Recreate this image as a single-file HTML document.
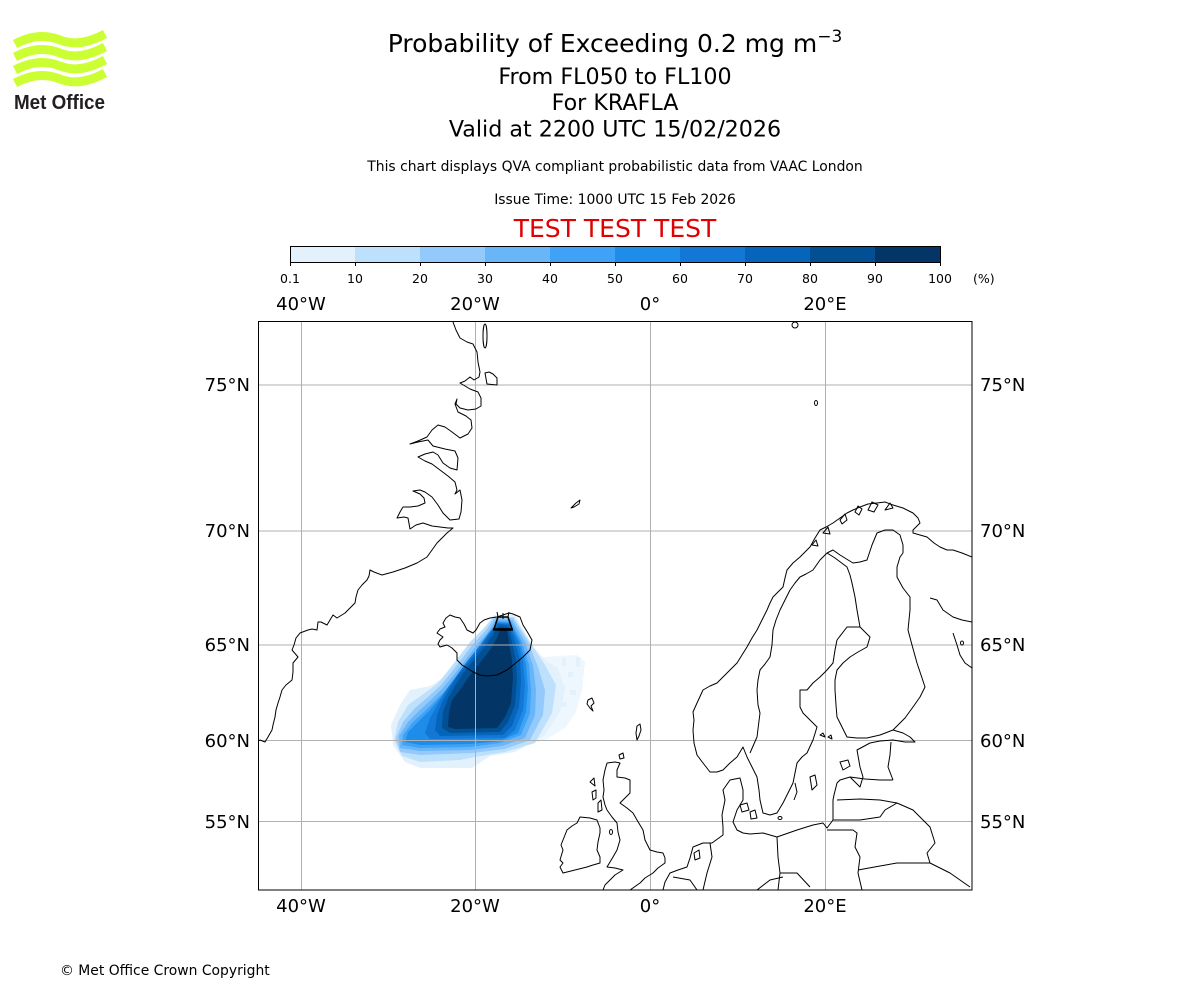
<!DOCTYPE html>
<html><head><meta charset="utf-8"><style>
html,body{margin:0;padding:0;background:#fff;}
svg{display:block;}
text{font-family:"DejaVu Sans","Liberation Sans",sans-serif;fill:#000;}
</style></head><body>
<svg width="1200" height="1000" viewBox="0 0 1200 1000" xmlns="http://www.w3.org/2000/svg">
<defs><clipPath id="ax"><rect x="258" y="321" width="714" height="569"/></clipPath></defs>
<rect width="1200" height="1000" fill="#fff"/>

<!-- Logo -->
<g fill="none" stroke="#ccff33" stroke-width="9">
<path d="M15,44 C30,36 45,34 60,40 C75,46 90,42 105,34"/>
<path d="M15,57 C30,49 45,47 60,53 C75,59 90,55 105,47"/>
<path d="M15,70 C30,62 45,60 60,66 C75,72 90,68 105,60"/>
<path d="M15,83 C30,75 45,73 60,79 C75,85 90,81 105,73"/>
</g>
<text x="14" y="109" style="font-family:'Liberation Sans',sans-serif;font-weight:bold;font-size:20px;fill:#231f20" textLength="91" lengthAdjust="spacingAndGlyphs">Met Office</text>

<!-- Titles -->
<text x="615" y="52" text-anchor="middle" font-size="25">Probability of Exceeding 0.2 mg m<tspan font-size="17" dy="-10">−3</tspan></text>
<text x="615" y="84" text-anchor="middle" font-size="22.2">From FL050 to FL100</text>
<text x="615" y="110" text-anchor="middle" font-size="22.2">For KRAFLA</text>
<text x="615" y="136.5" text-anchor="middle" font-size="22.2">Valid at 2200 UTC 15/02/2026</text>
<text x="615" y="171" text-anchor="middle" font-size="13.9">This chart displays QVA compliant probabilistic data from VAAC London</text>
<text x="615" y="204" text-anchor="middle" font-size="13.9">Issue Time: 1000 UTC 15 Feb 2026</text>
<text x="615" y="237" text-anchor="middle" font-size="25" style="fill:#e00000">TEST TEST TEST</text>

<!-- Colorbar -->
<g>
<rect x="290" y="246" width="65" height="16" fill="#e3f1fd"/>
<rect x="355" y="246" width="65" height="16" fill="#bde0fc"/>
<rect x="420" y="246" width="65" height="16" fill="#93c9fb"/>
<rect x="485" y="246" width="65" height="16" fill="#68b5f8"/>
<rect x="550" y="246" width="65" height="16" fill="#3fa2f6"/>
<rect x="615" y="246" width="65" height="16" fill="#1e8ce9"/>
<rect x="680" y="246" width="65" height="16" fill="#1377d6"/>
<rect x="745" y="246" width="65" height="16" fill="#0565bb"/>
<rect x="810" y="246" width="65" height="16" fill="#034f93"/>
<rect x="875" y="246" width="65" height="16" fill="#033666"/>
<rect x="290.5" y="246.5" width="650" height="16" fill="none" stroke="#000" stroke-width="1"/>
<g stroke="#000" stroke-width="1">
<line x1="290.5" y1="262" x2="290.5" y2="266"/><line x1="355.5" y1="262" x2="355.5" y2="266"/><line x1="420.5" y1="262" x2="420.5" y2="266"/><line x1="485.5" y1="262" x2="485.5" y2="266"/><line x1="550.5" y1="262" x2="550.5" y2="266"/><line x1="615.5" y1="262" x2="615.5" y2="266"/><line x1="680.5" y1="262" x2="680.5" y2="266"/><line x1="745.5" y1="262" x2="745.5" y2="266"/><line x1="810.5" y1="262" x2="810.5" y2="266"/><line x1="875.5" y1="262" x2="875.5" y2="266"/><line x1="940.5" y1="262" x2="940.5" y2="266"/>
</g>
<g font-size="12.5" text-anchor="middle">
<text x="290" y="283">0.1</text><text x="355" y="283">10</text><text x="420" y="283">20</text><text x="485" y="283">30</text><text x="550" y="283">40</text><text x="615" y="283">50</text><text x="680" y="283">60</text><text x="745" y="283">70</text><text x="810" y="283">80</text><text x="875" y="283">90</text><text x="940" y="283">100</text>
</g>
<text x="973" y="283" font-size="12.5">(%)</text>
</g>

<!-- Lon / Lat labels -->
<g font-size="18" text-anchor="middle">
<text x="301" y="310">40°W</text><text x="475" y="310">20°W</text><text x="650" y="310">0°</text><text x="825" y="310">20°E</text>
<text x="301" y="912">40°W</text><text x="475" y="912">20°W</text><text x="650" y="912">0°</text><text x="825" y="912">20°E</text>
</g>
<g font-size="18" text-anchor="end">
<text x="250" y="391">75°N</text><text x="250" y="537">70°N</text><text x="250" y="651">65°N</text><text x="250" y="747">60°N</text><text x="250" y="828">55°N</text>
</g>
<g font-size="18">
<text x="980" y="391">75°N</text><text x="980" y="537">70°N</text><text x="980" y="651">65°N</text><text x="980" y="747">60°N</text><text x="980" y="828">55°N</text>
</g>

<g clip-path="url(#ax)">
<!-- Plume -->
<polygon fill="#eef6fe" points="525,655 545,657 560,656 577,655 585,662 582,690 576,712 565,728 545,740 525,745"/>
<g fill="#e3f1fd">
<rect x="562" y="658" width="4" height="8"/><rect x="576" y="657" width="4" height="10"/><rect x="568" y="672" width="5" height="5"/><rect x="553" y="676" width="4" height="6"/><rect x="570" y="690" width="6" height="5"/><rect x="560" y="702" width="7" height="5"/><rect x="548" y="713" width="5" height="7"/><rect x="557" y="685" width="8" height="6"/>
</g>
<polygon fill="#e3f1fd" points="494,615 515,615 532,645 545,660 558,668 565,690 560,712 545,735 515,752 490,756 472,768 420,768 405,762 393,745 391,725 400,705 410,690 430,686 440,680 452,668 465,652 478,636"/>
<polygon fill="#bde0fc" points="494,616 514,617 530,642 545,665 556,685 552,713 535,743 505,752 475,757 460,760 420,762 402,756 394,740 398,722 408,705 422,695 437,684 447,672 458,658 470,642 484,628"/>
<polygon fill="#93c9fb" points="495,617 513,618 528,642 538,667 545,690 543,715 530,740 505,749 472,753 420,755 400,752 396,738 403,722 415,708 428,697 440,686 450,674 461,660 473,644 486,630"/>
<polygon fill="#68b5f8" points="496,619 512,620 525,642 533,666 536,690 535,715 525,738 502,746 470,750 420,751 400,748 399,736 408,722 420,710 432,699 443,688 453,676 464,662 476,646 488,632"/>
<polygon fill="#3fa2f6" points="497,621 511,622 522,642 529,665 531,690 530,713 521,735 500,743 470,747 420,748 402,745 403,735 412,723 424,712 435,701 446,690 456,678 467,664 479,648 490,634"/>
<polygon fill="#1e8ce9" points="497,622 510,623 520,642 526,664 528,688 526,712 518,733 500,741 470,744 420,745 405,742 408,732 418,722 430,710 440,698 450,686 460,674 472,659 484,644 492,632"/>
<polygon fill="#1377d6" points="497,623 510,624 518,642 523,662 525,685 523,710 515,730 505,738 430,739 425,733 430,718 438,704 446,690 455,678 465,664 477,649 488,634"/>
<polygon fill="#0565bb" points="498,624 509,625 515,642 520,660 521,682 519,707 512,726 503,735 440,736 435,730 437,715 443,700 450,688 458,675 469,662 481,647 491,633"/>
<polygon fill="#034f93" points="499,626 508,627 512,642 516,660 517,680 515,705 508,722 500,732 450,733 442,728 443,712 448,698 455,686 463,673 474,660 486,645 494,633"/>
<polygon fill="#033666" points="500,630 507,630 509,643 512,660 513,677 511,703 505,717 497,728 455,729 448,727 449,712 452,700 460,690 468,678 478,665 490,650 497,638"/>

<!-- Gridlines -->
<g stroke="#b0b0b0" stroke-width="1">
<line x1="301.5" y1="321" x2="301.5" y2="890"/><line x1="475.5" y1="321" x2="475.5" y2="890"/><line x1="650.5" y1="321" x2="650.5" y2="890"/><line x1="825.5" y1="321" x2="825.5" y2="890"/>
<line x1="258" y1="385" x2="972" y2="385"/><line x1="258" y1="531" x2="972" y2="531"/><line x1="258" y1="645" x2="972" y2="645"/><line x1="258" y1="740.5" x2="972" y2="740.5"/><line x1="258" y1="821.5" x2="972" y2="821.5"/>
</g>

<!-- Coastlines -->
<g fill="none" stroke="#000" stroke-width="1" stroke-linejoin="round">
<!-- Greenland -->
<path d="M453,322 L456,330 L460,338 L467,342 L473,344 L477,352 L478,362 L480,372 L479,377 L474,380 L470,377 L465,381 L460,383 L470,389 L478,392 L481,398 L481,406 L476,409 L468,410 L460,408 L456,404 L457,399 L455,404 L458,412 L466,416 L471,420 L472,428 L468,434 L460,438 L452,432 L445,427 L438,425 L432,430 L427,437 L418,441 L410,444 L418,442 L428,440 L433,446 L445,449 L455,451 L458,458 L457,470 L450,468 L443,463 L438,455 L433,452 L425,454 L418,457 L425,461 L432,464 L440,470 L448,476 L455,482 L457,490 L455,494 L460,490 L462,500 L461,512 L459,519 L450,520 L443,513 L438,505 L432,497 L425,492 L420,490 L413,491 L420,494 L424,498 L425,503 L418,506 L410,507 L403,507 L400,512 L397,518 L404,517 L408,518 L410,529 L416,525 L423,523 L432,526 L440,527 L448,528 L453,528 L447,533 L443,537 L437,543 L432,550 L427,557 L417,563 L405,568 L393,572 L382,575 L374,572 L370,570 L369,576 L367,580 L362,585 L358,590 L356,597 L355,603 L350,608 L345,613 L337,618 L333,615 L327,625 L321,622 L318,622 L317,630 L312,629 L308,630 L300,633 L296,638 L294,645 L292,650 L298,657 L293,663 L293,672 L292,680 L286,685 L282,690 L280,697 L278,703 L276,710 L275,717 L273,725 L272,730 L268,737 L265,742 L260,740 L257,742"/>
<ellipse cx="485" cy="336" rx="2" ry="12"/>
<path d="M485,373 L487,384 L497,385 L497,378 L493,374 L489,372 Z"/>
<ellipse cx="795" cy="325" rx="3" ry="3"/>
<ellipse cx="816" cy="403" rx="1.5" ry="2.5"/>
<path d="M571,508 L576,503 L580,500 L579,504 L574,507 Z"/>
<!-- Iceland -->
<path d="M440,647 L447,645 L452,648 L457,653 L457,660 L462,665 L467,668 L473,672 L480,675 L487,676 L497,675 L507,670 L512,666 L517,662 L523,657 L530,650 L532,640 L528,633 L523,625 L520,617 L513,614 L509,613 L497,617 L490,618 L484,620 L480,623 L476,630 L473,633 L467,630 L464,624 L460,618 L455,617 L450,615 L446,618 L443,623 L445,627 L440,629 L437,633 L443,637 L440,640 L438,644 Z"/>
<!-- Volcano symbol -->
<path d="M498,617 L508,617 L512,629 L494,629 Z" stroke-width="1.5"/>
<line x1="493" y1="629.5" x2="513" y2="629.5" stroke-width="2.5"/>
<path d="M497,612 L498,617 M509,612 L508,617 M503,613 L503,619"/>
<!-- Faroes, Shetland, Orkney -->
<path d="M588,700 L592,698 L594,703 L591,706 L593,711 L590,708 L587,704 Z"/>
<path d="M637,726 L640,724 L641,730 L639,736 L637,740 L636,733 Z"/>
<path d="M619,755 L623,753 L624,758 L620,759 Z"/>
<!-- Norway / Sweden / Finland coast -->
<path d="M972,557 L962,553 L953,550 L947,550 L940,547 L934,543 L927,537 L920,535 L913,533 L913,530 L920,523 L918,518 L913,513 L903,508 L893,505 L885,502 L877,503 L868,504 L860,507 L853,510 L847,513 L840,518 L833,523 L826,527 L820,530 L815,538 L810,547 L805,552 L800,557 L793,563 L787,570 L785,578 L783,587 L778,592 L773,597 L770,603 L767,610 L762,620 L757,630 L752,638 L747,647 L742,655 L737,663 L732,668 L727,673 L722,678 L717,683 L710,686 L703,690 L697,703 L693,712 L694,720 L693,730 L694,743 L697,755 L703,763 L710,772 L717,772 L723,770 L730,763 L737,757 L743,747 L747,757 L752,767 L757,777 L759,790 L760,800 L763,813 L770,815 L777,813 L783,803 L788,793 L793,783 L797,763 L802,757 L807,753 L813,740 L817,727 L810,720 L803,713 L800,707 L800,690 L807,690 L813,683 L820,677 L827,670 L833,663 L835,650 L837,640 L847,627 L860,627 L870,637 L867,647 L858,652 L850,657 L843,663 L837,670 L835,680 L835,690 L836,705 L837,717 L842,727 L847,737 L857,738 L867,738 L880,735 L893,730 L903,733 L910,737 L915,742 L905,742 L893,740 L880,741 L870,743 L857,750 L860,767 L863,777 L860,787 L850,777 L840,780 L837,783 L834,795 L833,800 L833,812 L833,820 L827,828 L823,823 L813,825 L797,830 L777,837 L763,833 L750,834 L743,833 L737,830 L733,822 L737,810 L743,800 L743,790 L740,778 L730,780 L723,790 L725,800 L722,815 L723,827 L723,835 L712,843 L703,843 L693,847 L690,858 L687,867 L678,870 L670,873 L665,882 L663,890"/>
<!-- North Norway islands -->
<path d="M868,510 L872,502 L878,505 L874,512 Z M855,512 L858,506 L862,509 L859,515 Z M840,520 L845,514 L847,520 L842,524 Z M823,533 L828,527 L830,534 Z M812,545 L816,540 L818,546 Z M885,510 L890,503 L893,508 Z"/>
<!-- Borders -->
<path d="M827,553 L820,560 L813,570 L806,574 L800,577 L795,583 L790,590 L785,600 L780,610 L776,620 L773,630 L772,645 L770,657 L765,664 L760,670 L758,680 L757,690 L758,705 L760,713 L757,737 L750,753"/>
<path d="M827,553 L835,558 L847,567 L850,575 L852,583 L855,597 L857,610 L860,627"/>
<path d="M827,553 L833,550 L840,555 L853,563 L860,562 L867,560 L872,545 L877,533 L885,530 L893,530 L900,535 L903,545 L903,553"/>
<path d="M903,553 L900,557 L897,567 L897,577 L903,588 L910,597 L910,610 L908,630 L912,645 L917,663 L921,675 L925,687 L920,697 L913,707 L905,718 L893,730"/>
<path d="M930,598 L937,600 L943,610 L953,617 L962,620 L972,622"/>
<path d="M953,633 L957,645 L960,655 L965,663 L972,668"/>
<ellipse cx="962" cy="643" rx="1.5" ry="2"/>
<path d="M891,742 L890,755 L888,767 L893,780"/>
<path d="M850,777 L865,779 L880,780 L893,780"/>
<path d="M837,800 L860,799 L880,800 L897,803"/>
<path d="M833,820 L860,820 L880,817 L885,810 L897,803 L913,810 L930,827 L935,843 L927,853 L930,863"/>
<path d="M827,830 L853,830 L857,833 L855,847 L860,857 L858,873 L862,890"/>
<path d="M858,870 L880,866 L897,863 L930,863 L950,873 L970,887"/>
<path d="M777,837 L778,857 L780,873 L778,890"/>
<path d="M780,873 L797,873 L810,887"/>
<path d="M710,843 L712,857 L707,873 L703,890"/>
<path d="M757,890 L770,880 L783,877"/>
<path d="M673,877 L690,880 L697,890"/>
<!-- Baltic islands -->
<path d="M810,777 L815,775 L817,785 L812,790 Z"/>
<path d="M795,783 L797,792 L794,800"/>
<path d="M840,762 L848,760 L850,766 L843,770 Z"/>
<ellipse cx="780" cy="818" rx="2" ry="1.5"/>
<path d="M820,735 L823,733 L825,737 Z M828,737 L831,735 L832,739 Z"/>
<path d="M740,805 L747,803 L749,810 L742,812 Z M750,812 L755,810 L757,818 L751,819 Z"/>
<!-- Netherlands lake -->
<path d="M694,853 L699,850 L700,858 L695,860 Z"/>
<!-- UK -->
<path d="M607,763 L615,762 L620,763 L617,770 L617,777 L625,778 L630,780 L630,787 L630,793 L625,798 L620,803 L627,808 L633,813 L637,820 L643,830 L645,840 L650,850 L657,852 L663,853 L665,858 L665,863 L658,868 L653,873 L645,878 L640,883 L630,890"/>
<path d="M607,763 L605,770 L603,780 L604,790 L603,797 L605,805 L607,810 L612,817 L617,823 L618,832 L620,840 L617,850 L613,857 L607,867 L615,868 L623,870 L615,875 L610,880 L605,885 L603,890"/>
<ellipse cx="611" cy="832" rx="1.5" ry="2.5"/>
<path d="M590,782 L594,778 L595,786 Z M592,792 L596,790 L596,798 L593,800 Z M598,803 L601,800 L602,810 L598,812 Z"/>
<!-- Ireland -->
<path d="M580,817 L590,818 L597,820 L600,828 L600,833 L598,842 L597,850 L600,857 L600,863 L593,865 L587,867 L575,870 L563,873 L560,867 L563,863 L560,860 L563,850 L561,845 L563,840 L565,835 L567,830 L572,826 L577,823 Z"/>
</g>
</g>

<!-- Axes frame -->
<rect x="258.5" y="321.5" width="713.5" height="568.5" fill="none" stroke="#000" stroke-width="1"/>

<text x="60" y="975" font-size="13.9">© Met Office Crown Copyright</text>
</svg>
</body></html>
